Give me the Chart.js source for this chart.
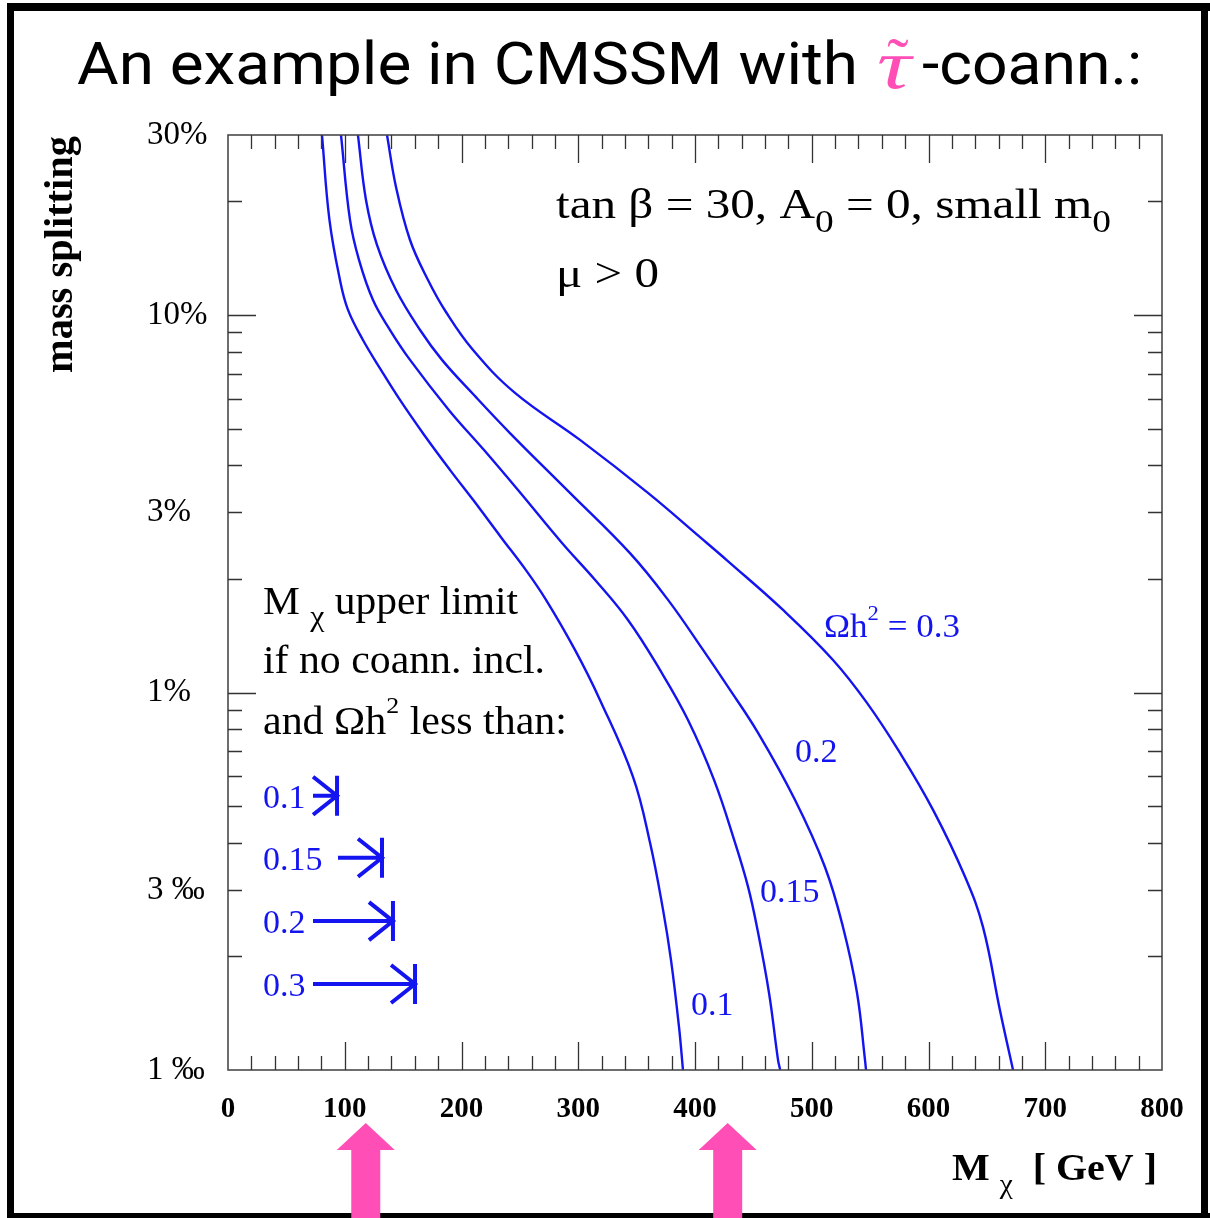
<!DOCTYPE html>
<html>
<head>
<meta charset="utf-8">
<title>CMSSM stau coannihilation example</title>
<script src="https://cdn.jsdelivr.net/npm/chart.js@4.4.0/dist/chart.umd.min.js"></script>
<style>
  html, body { margin: 0; padding: 0; background: #fff; }
  canvas { display: block; }
</style>
</head>
<body>
<canvas id="plot" width="1210" height="1218"></canvas>
<script>
// --- data: neutralino mass [GeV] vs mass splitting [%] ---
const curveLabels = ['0.1', '0.15', '0.2', '0.3'];

const mass01  = [80.5, 86.9, 95.9, 102.8, 115.6, 131.0, 147.3, 167.9, 190.1, 209.9, 233.8, 255.2, 272.4, 297.2, 318.6, 346.9, 361.5, 372.6, 379.4, 386.3, 389.7];
const split01 = [30, 17.87, 12.39, 10.32, 8.59, 7.16, 5.96, 4.82, 3.89, 3.24, 2.58, 2.11, 1.76, 1.297, 0.956, 0.598, 0.400, 0.266, 0.196, 0.130, 0.1];

const mass015  = [96.8, 104.5, 112.2, 124.2, 138.8, 155.9, 189.3, 219.3, 248.4, 286.1, 314.3, 342.6, 370.0, 394.0, 416.3, 434.3, 445.4, 453.1, 463.4, 471.1, 473];
const split015 = [30, 17.87, 14.00, 10.96, 9.13, 7.61, 5.60, 4.39, 3.44, 2.49, 1.99, 1.557, 1.148, 0.846, 0.587, 0.400, 0.306, 0.239, 0.160, 0.1064, 0.1];

const mass02  = [111.3, 118.2, 127.6, 143.9, 164.5, 183.3, 210.7, 241.5, 292.9, 344.3, 376.9, 406.9, 428.3, 454.0, 485.7, 511.3, 526.8, 538.8, 545.6, 546.5];
const split02 = [30, 20.18, 15.34, 11.65, 9.13, 7.61, 6.14, 4.87, 3.38, 2.34, 1.76, 1.297, 1.035, 0.782, 0.519, 0.345, 0.239, 0.160, 0.1064, 0.1];

const mass03  = [136.2, 143.9, 155.9, 171.3, 186.7, 209.9, 245.8, 301.5, 359.7, 404.3, 427.4, 475.4, 518.2, 547.3, 575.6, 603.9, 631.3, 646.7, 661.2, 672.4];
const split03 = [30, 21.85, 15.81, 12.39, 10.19, 8.08, 6.22, 4.67, 3.38, 2.58, 2.24, 1.655, 1.220, 0.939, 0.692, 0.489, 0.325, 0.239, 0.144, 0.1];

// upper limits without coannihilation (arrows), per Omega h^2
const limitLabels = ['0.1', '0.15', '0.2', '0.3'];
const limitFrom   = [72.8, 94.2, 72.8, 72.8];
const limitTo     = [93.4, 131.9, 141.3, 160.2];
const limitLevel  = [0.533, 0.365, 0.248, 0.169];

// pink pointer arrows under the axis
const pointerAt = [118, 428];

const xTickValues = [0, 100, 200, 300, 400, 500, 600, 700, 800];
const yTickValues = [0.1, 0.3, 1, 3, 10, 30];
const yTickLabels = ['1 ‰', '3 ‰', '1%', '3%', '10%', '30%'];

const BLUE = '#1414f0';
const PINK = '#ff4fb6';
const SERIF = '"Liberation Serif", "Times New Roman", serif';

const toPoints = (xs, ys) => xs.map((v, i) => ({ x: v, y: ys[i] }));
const series = [[mass01, split01], [mass015, split015], [mass02, split02], [mass03, split03]];

// draw a row of text runs from x0, optionally stretched to end at x1
function drawRuns(ctx, runs, x0, y0, x1) {
    let w = 0;
    runs.forEach(r => { ctx.font = r.font; r.w = ctx.measureText(r.t).width; w += r.w; });
    const sx = x1 ? (x1 - x0) / w : 1;
    ctx.save();
    ctx.translate(x0, y0);
    ctx.scale(sx, 1);
    ctx.textAlign = 'left';
    ctx.textBaseline = 'alphabetic';
    let x = 0;
    runs.forEach(r => {
        ctx.font = r.font;
        ctx.fillStyle = r.color || '#000';
        ctx.fillText(r.t, x, r.dy || 0);
        x += r.w;
    });
    ctx.restore();
}

const decorations = {
    id: 'decorations',
    beforeDraw(chart) {
        const ctx = chart.ctx;
        ctx.save();
        ctx.fillStyle = '#fff';
        ctx.fillRect(0, 0, chart.width, chart.height);
        ctx.restore();
    },
    afterDatasetsDraw(chart) {
        const { ctx, chartArea: a, scales: { x, y } } = chart;
        ctx.save();

        // plot frame
        ctx.strokeStyle = '#4a4a4a';
        ctx.lineWidth = 1.6;
        ctx.strokeRect(a.left, a.top, a.right - a.left, a.bottom - a.top);

        // inward ticks on all four sides
        ctx.strokeStyle = '#333';
        ctx.lineWidth = 1.3;
        ctx.beginPath();
        for (let v = 20; v < 800; v += 20) {
            const px = Math.round(x.getPixelForValue(v)) + 0.5;
            const len = v % 100 === 0 ? 28 : 14;
            ctx.moveTo(px, a.bottom); ctx.lineTo(px, a.bottom - len);
            ctx.moveTo(px, a.top); ctx.lineTo(px, a.top + len);
        }
        [0.1, 1, 10].forEach(dec => {
            for (let k = 1; k <= 9; k++) {
                const v = k * dec;
                if (v <= 0.1 || v >= 30) continue;
                const py = Math.round(y.getPixelForValue(v)) + 0.5;
                const len = k === 1 ? 28 : 14;
                ctx.moveTo(a.left, py); ctx.lineTo(a.left + len, py);
                ctx.moveTo(a.right, py); ctx.lineTo(a.right - len, py);
            }
        });
        ctx.stroke();

        // limit arrows  ->|
        ctx.strokeStyle = BLUE;
        ctx.lineWidth = 4;
        limitTo.forEach((to, i) => {
            const x0 = x.getPixelForValue(limitFrom[i]);
            const xt = x.getPixelForValue(to);
            const yy = y.getPixelForValue(limitLevel[i]);
            ctx.beginPath();
            ctx.moveTo(x0, yy); ctx.lineTo(xt, yy);
            ctx.moveTo(xt - 24, yy - 19); ctx.lineTo(xt, yy); ctx.lineTo(xt - 24, yy + 19);
            ctx.moveTo(xt, yy - 20); ctx.lineTo(xt, yy + 20);
            ctx.stroke();
            drawRuns(ctx, [{ t: limitLabels[i], font: '34px ' + SERIF, color: BLUE }], a.left + 35, yy + 12);
        });

        // curve labels
        drawRuns(ctx, [
            { t: 'Ωh', font: '34px ' + SERIF, color: BLUE },
            { t: '2', font: '22px ' + SERIF, color: BLUE, dy: -17 },
            { t: ' = 0.3', font: '34px ' + SERIF, color: BLUE }
        ], 824, 637, 960);
        drawRuns(ctx, [{ t: '0.2', font: '34px ' + SERIF, color: BLUE }], 795, 762);
        drawRuns(ctx, [{ t: '0.15', font: '34px ' + SERIF, color: BLUE }], 760, 902);
        drawRuns(ctx, [{ t: '0.1', font: '34px ' + SERIF, color: BLUE }], 691, 1015);

        // parameter box
        drawRuns(ctx, [
            { t: 'tan β = 30, A', font: '42px ' + SERIF },
            { t: '0', font: '32px ' + SERIF, dy: 14 },
            { t: ' = 0, small m', font: '42px ' + SERIF },
            { t: '0', font: '32px ' + SERIF, dy: 14 }
        ], 556, 218, 1111);
        drawRuns(ctx, [{ t: 'μ > 0', font: '42px ' + SERIF }], 556, 287, 659);

        // left note
        drawRuns(ctx, [
            { t: 'M ', font: '39px ' + SERIF },
            { t: 'χ', font: '30px ' + SERIF, dy: 12 },
            { t: ' upper limit', font: '39px ' + SERIF }
        ], 263, 614, 518);
        drawRuns(ctx, [{ t: 'if no coann. incl.', font: '39px ' + SERIF }], 263, 673, 545);
        drawRuns(ctx, [
            { t: 'and Ωh', font: '39px ' + SERIF },
            { t: '2', font: '24px ' + SERIF, dy: -21 },
            { t: ' less than:', font: '39px ' + SERIF }
        ], 263, 734, 567);

        ctx.restore();
    },
    afterDraw(chart) {
        const { ctx, scales: { x } } = chart;
        ctx.save();

        // axis titles
        drawRuns(ctx, [
            { t: 'M ', font: 'bold 38px ' + SERIF },
            { t: 'χ', font: '28px ' + SERIF, dy: 13 },
            { t: '  [ GeV ]', font: 'bold 38px ' + SERIF }
        ], 952, 1180, 1157);
        ctx.save();
        ctx.translate(72, 373);
        ctx.rotate(-Math.PI / 2);
        drawRuns(ctx, [{ t: 'mass splitting', font: 'bold 39px ' + SERIF }], 0, 0, 237);
        ctx.restore();

        // slide title
        drawRuns(ctx, [{ t: 'An example in CMSSM with', font: '60px Roboto' }], 77, 84, 858);
        drawRuns(ctx, [{ t: 'τ', font: 'italic 70px ' + SERIF, color: PINK }], 877, 88, 911);
        ctx.font = '64px ' + SERIF;
        ctx.fillStyle = PINK;
        ctx.textAlign = 'center';
        ctx.fillText('˜', 898, 82);
        drawRuns(ctx, [{ t: '-coann.:', font: '60px Roboto' }], 922, 84, 1142);

        // slide border
        ctx.fillStyle = '#000';
        ctx.fillRect(7, 3, 1203, 8);
        ctx.fillRect(7, 3, 7, 1215);
        ctx.fillRect(1201, 3, 7, 1215);
        ctx.fillRect(7, 1213, 1203, 6);

        // pink pointers
        ctx.fillStyle = PINK;
        pointerAt.forEach(v => {
            const cx = x.getPixelForValue(v);
            ctx.beginPath();
            ctx.moveTo(cx, 1123);
            ctx.lineTo(cx + 29, 1150);
            ctx.lineTo(cx + 14.5, 1150);
            ctx.lineTo(cx + 14.5, 1218);
            ctx.lineTo(cx - 14.5, 1218);
            ctx.lineTo(cx - 14.5, 1150);
            ctx.lineTo(cx - 29, 1150);
            ctx.closePath();
            ctx.fill();
        });

        ctx.restore();
    }
};

new Chart(document.getElementById('plot').getContext('2d'), {
    type: 'scatter',
    data: {
        datasets: series.map((s, i) => ({
            label: 'Ωh² = ' + curveLabels[i],
            data: toPoints(s[0], s[1]),
            showLine: true,
            borderColor: BLUE,
            borderWidth: 2.4,
            pointRadius: 0,
            tension: 0.4,
            fill: false
        }))
    },
    options: {
        responsive: false,
        animation: false,
        layout: { padding: { left: 147, top: 135, right: 48, bottom: 0 } },
        plugins: { legend: { display: false }, tooltip: { enabled: false } },
        scales: {
            x: {
                type: 'linear',
                min: 0, max: 800,
                afterFit: s => { s.height = 148; },
                afterBuildTicks: s => { s.ticks = xTickValues.map(v => ({ value: v })); },
                grid: { display: false, drawTicks: false },
                border: { display: false },
                ticks: {
                    padding: 22, maxRotation: 0, autoSkip: false, color: '#000',
                    font: { family: SERIF, size: 29, weight: 'bold' }
                }
            },
            y: {
                type: 'logarithmic',
                min: 0.1, max: 30,
                afterFit: s => { s.width = 81; },
                afterBuildTicks: s => { s.ticks = yTickValues.map(v => ({ value: v })); },
                grid: { display: false, drawTicks: false },
                border: { display: false },
                ticks: {
                    crossAlign: 'far', padding: 0, color: '#000', autoSkip: false,
                    font: { family: SERIF, size: 33 },
                    callback: v => yTickLabels[yTickValues.indexOf(v)]
                }
            }
        }
    },
    plugins: [decorations]
});
</script>
</body>
</html>
